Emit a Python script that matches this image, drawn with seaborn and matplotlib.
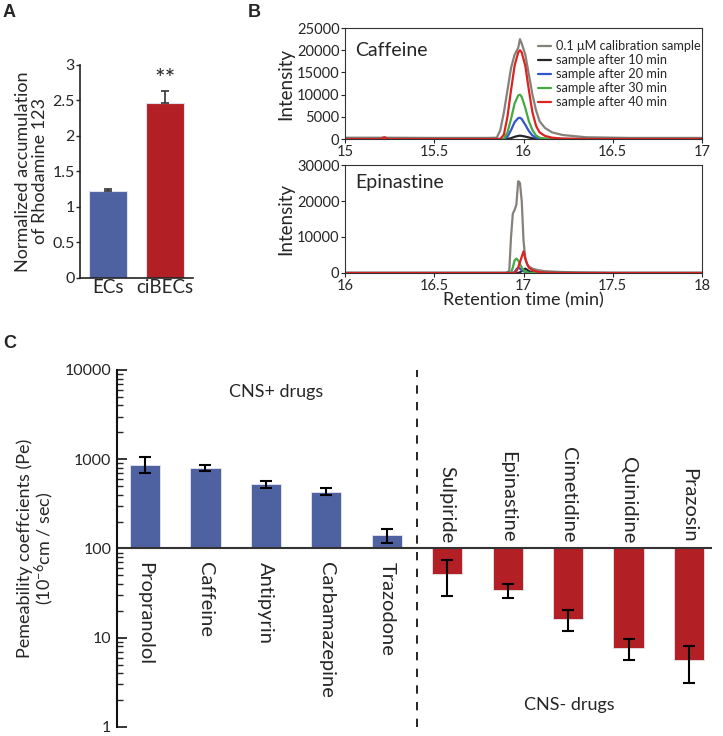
import numpy as np
import pandas as pd
import seaborn as sns
import matplotlib.pyplot as plt
from matplotlib.ticker import LogLocator, NullFormatter

# ---- panel A: rhodamine 123 accumulation
cell_types = ["ECs", "ciBECs"]
rho_mean = [1.22, 2.47]
rho_err = [0.04, 0.16]

# ---- panel B: chromatograms
samples = ["0.1 \u03bcM calibration sample", "sample after 10 min", "sample after 20 min",
           "sample after 30 min", "sample after 40 min"]
sample_colors = ["#85817a", "#262626", "#3355cc", "#44aa44", "#dd2222"]

caf_time = [15.00, 15.20, 15.22, 15.24, 15.50, 15.80, 15.85, 15.87, 15.89, 15.91, 15.93, 15.95, 15.97,
            15.98, 15.99, 16.01, 16.03, 16.05, 16.07, 16.09, 16.12, 16.16, 16.22, 16.35, 16.60, 17.00]
caf_calib = [300, 300, 350, 300, 250, 250, 300, 2000, 6000, 11000, 16000, 19000, 20500,
             22500, 21500, 19000, 14500, 10000, 6500, 4000, 2500, 1500, 900, 400, 250, 250]
caf_10 = [0, 0, 0, 0, 0, 0, 0, 0, 0, 0, 200, 500, 700,
          750, 700, 550, 350, 150, 50, 0, 0, 0, 0, 0, 0, 0]
caf_20 = [0, 0, 0, 0, 0, 0, 0, 0, 0, 500, 2000, 3800, 4700,
          4800, 4500, 3200, 1800, 800, 300, 100, 0, 0, 0, 0, 0, 0]
caf_30 = [0, 0, 0, 0, 0, 0, 0, 0, 0, 1500, 4500, 8000, 9800,
          10000, 9500, 7000, 4000, 2000, 800, 300, 100, 0, 0, 0, 0, 0]
caf_40 = [0, 0, 400, 0, 0, 0, 0, 0, 1000, 5000, 11000, 16500, 19500,
          20000, 19500, 16500, 11000, 6000, 3000, 1500, 700, 300, 100, 0, 0, 0]

epi_time = [16.00, 16.50, 16.90, 16.92, 16.93, 16.94, 16.95, 16.96, 16.97, 16.98, 16.99,
            17.00, 17.01, 17.02, 17.03, 17.05, 17.08, 17.12, 17.20, 17.30, 17.50, 18.00]
epi_calib = [0, 0, 0, 500, 10000, 16500, 17500, 19000, 25500, 25000, 20000,
             9000, 4000, 2500, 1800, 1200, 800, 500, 300, 150, 0, 0]
epi_10 = [0, 0, 0, 0, 0, 0, 0, 0, 0, 200, 500,
          900, 1200, 900, 500, 200, 50, 0, 0, 0, 0, 0]
epi_20 = [0, 0, 0, 0, 0, 0, 300, 1000, 1500, 1200, 800,
          500, 300, 100, 0, 0, 0, 0, 0, 0, 0, 0]
epi_30 = [0, 0, 0, 0, 0, 1500, 3500, 4000, 3500, 2500, 1500,
          800, 400, 200, 0, 0, 0, 0, 0, 0, 0, 0]
epi_40 = [0, 0, 0, 0, 0, 0, 0, 500, 1500, 3000, 4500,
          6000, 4000, 2500, 1500, 800, 300, 100, 0, 0, 0, 0]

# ---- panel C: permeability coefficients
drugs = ["Propranolol", "Caffeine", "Antipyrin", "Carbamazepine", "Trazodone",
         "Sulpiride", "Epinastine", "Cimetidine", "Quinidine", "Prazosin"]
pe_mean = [870, 800, 533, 433, 140, 52, 34.4, 16.2, 7.7, 5.6]
pe_low = [700, 740, 480, 395, 115, 29.6, 27.9, 11.8, 5.6, 3.15]
pe_high = [1050, 870, 570, 470, 166, 75, 40, 20.5, 9.7, 8.1]
cns_group = ["CNS+"] * 5 + ["CNS-"] * 5

blue = "#4e62a1"
red = "#b21f24"

sns.set_theme(style="ticks")
plt.rcParams['font.family'] = ['Lato', 'DejaVu Sans']
plt.rcParams['mathtext.default'] = 'regular'

fig = plt.figure(figsize=(7.23, 7.36), dpi=100)

# panel A
axA = fig.add_axes([0.1107, 0.6223, 0.1563, 0.2894])
sns.barplot(x=cell_types, y=rho_mean, hue=cell_types, palette=[blue, red], legend=False,
            saturation=1, width=0.67, edgecolor="#dde0ee", linewidth=0.8, ax=axA)
axA.errorbar(range(2), rho_mean, yerr=[[0, 0], rho_err], fmt="none", ecolor="#333333",
             elinewidth=1.2, capsize=3, capthick=1.2)
axA.text(1, 2.64, "**", ha="center", va="bottom", fontsize=18)
axA.set_xlim(-0.5, 1.5)
axA.set_ylim(0, 3)
axA.set_yticks([0, 0.5, 1, 1.5, 2, 2.5, 3])
axA.set_yticklabels(["0", "0.5", "1", "1.5", "2", "2.5", "3"])
axA.tick_params(axis="y", labelsize=11.5, length=3, width=1, pad=1)
axA.tick_params(axis="x", labelsize=13.5, length=0, pad=1)
axA.set_ylabel("Normalized accumulation\nof Rhodamine 123", fontsize=13, labelpad=3, linespacing=1.05)
sns.despine(ax=axA)
for s in ["left", "bottom"]:
    axA.spines[s].set_linewidth(1.2)
    axA.spines[s].set_color("#222222")

# panel B
def chrom_frame(time, series):
    rows = []
    for name, vals in zip(samples, series):
        rows.append(pd.DataFrame({"time": time, "intensity": vals, "sample": name}))
    return pd.concat(rows, ignore_index=True)

caf_df = chrom_frame(caf_time, [caf_calib, caf_10, caf_20, caf_30, caf_40])
epi_df = chrom_frame(epi_time, [epi_calib, epi_10, epi_20, epi_30, epi_40])
pal = dict(zip(samples, sample_colors))

axB1 = fig.add_axes([0.4772, 0.8111, 0.4938, 0.1508])
axB2 = fig.add_axes([0.4772, 0.6291, 0.4938, 0.1467])
for ax, df, xlim, yticks, name, ty in [
        (axB1, caf_df, (15, 17), [0, 5000, 10000, 15000, 20000, 25000], "Caffeine", 0.80),
        (axB2, epi_df, (16, 18), [0, 10000, 20000, 30000], "Epinastine", 0.84)]:
    sns.lineplot(data=df, x="time", y="intensity", hue="sample", hue_order=samples,
                 palette=pal, estimator=None, errorbar=None, linewidth=1.6, ax=ax)
    ax.set_xlim(*xlim)
    ax.set_ylim(0, yticks[-1])
    ax.set_yticks(yticks)
    ax.set_yticklabels([str(v) for v in yticks])
    xt = [xlim[0], xlim[0] + 0.5, xlim[0] + 1, xlim[0] + 1.5, xlim[1]]
    ax.set_xticks(xt)
    ax.set_xticklabels(["%g" % v for v in xt])
    ax.tick_params(labelsize=10.5, length=3, width=0.8, pad=1)
    ax.set_ylabel("Intensity", fontsize=13.5, labelpad=2)
    ax.set_xlabel("")
    ax.text(0.028, ty, name, transform=ax.transAxes, fontsize=14, va="center")
    for s in ax.spines.values():
        s.set_linewidth(0.8)
        s.set_color("#333333")

handles, labels = axB1.get_legend_handles_labels()
axB1.legend(handles, labels, loc="upper right", bbox_to_anchor=(1.0, 0.9), frameon=False,
            fontsize=9.2, handlelength=1.0, labelspacing=0.15, handletextpad=0.4,
            borderaxespad=0.0, borderpad=0.1)
axB2.get_legend().remove()
axB2.set_xlabel("Retention time (min)", fontsize=13, labelpad=0)

# panel C
axC = fig.add_axes([0.1618, 0.01223, 0.8230, 0.4851])
axC.set_yscale("log")
xpos = np.arange(len(drugs))
pe = np.array(pe_mean)
bar_colors = [blue if g == "CNS+" else red for g in cns_group]
axC.bar(xpos, pe - 100, bottom=100, width=0.5, color=bar_colors, edgecolor="#e6e6ee", linewidth=0.6)
axC.errorbar(xpos, pe, yerr=[pe - np.array(pe_low), np.array(pe_high) - pe], fmt="none",
             ecolor="black", elinewidth=1.5, capsize=4, capthick=1.5)
axC.axhline(100, color="#333333", linewidth=1.5)
axC.axvline(4.5, color="black", linewidth=1.2, linestyle=(0, (5, 5)))
axC.set_xlim(-0.463, 9.38)
axC.set_ylim(1, 10000)
axC.set_xticks([])
axC.set_yticks([1, 10, 100, 1000, 10000])
axC.set_yticklabels(["1", "10", "100", "1000", "10000"])
axC.yaxis.set_minor_locator(LogLocator(base=10, subs=np.arange(2, 10)))
axC.yaxis.set_minor_formatter(NullFormatter())
axC.tick_params(axis="y", which="major", direction="in", length=7, width=1.3, labelsize=11.5, pad=4)
axC.tick_params(axis="y", which="minor", direction="in", length=4, width=1.0)
for s in ["top", "right", "bottom"]:
    axC.spines[s].set_visible(False)
axC.spines["left"].set_linewidth(1.5)
axC.spines["left"].set_color("#111111")
axC.set_ylabel("Pemeability coeffcients (Pe)\n(10$^{-6}$cm / sec)", fontsize=13,
               labelpad=6, linespacing=1.0)

for i, (name, v) in enumerate(zip(drugs, pe_mean)):
    if cns_group[i] == "CNS+":
        axC.annotate(name, xy=(i, 100), xytext=(0, -10), textcoords="offset points",
                     rotation=270, ha="center", va="top", fontsize=14.5)
    else:
        axC.annotate(name, xy=(i, 100), xytext=(0, 4), textcoords="offset points",
                     rotation=270, ha="center", va="bottom", fontsize=14.5)

axC.text(0.267, 0.938, "CNS+ drugs", transform=axC.transAxes, ha="center", va="center", fontsize=13)
axC.text(0.761, 0.062, "CNS- drugs", transform=axC.transAxes, ha="center", va="center", fontsize=13)

for lab, x, y in [("A", 0.004, 0.995), ("B", 0.342, 0.995), ("C", 0.004, 0.545)]:
    fig.text(x, y, lab, fontsize=13, fontweight="bold", family="Liberation Sans", va="top")

fig.savefig("out.png", dpi=100)
